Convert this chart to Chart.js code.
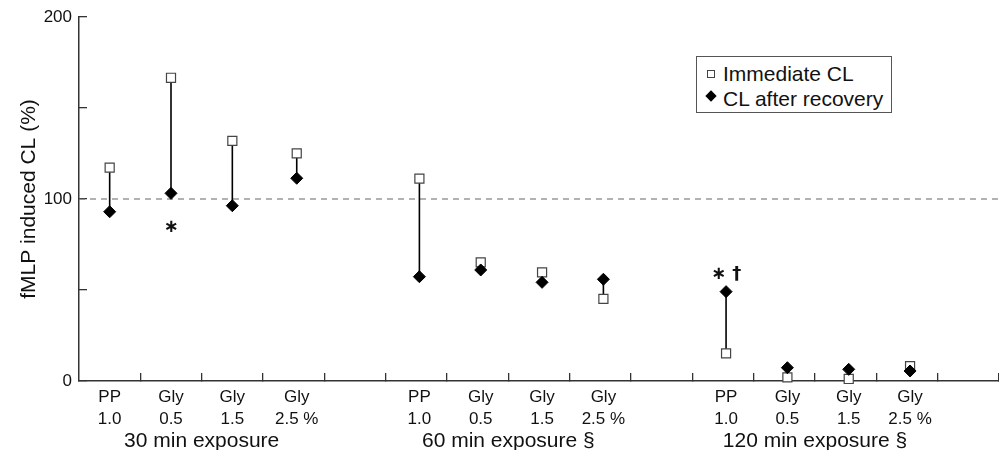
<!DOCTYPE html>
<html>
<head>
<meta charset="utf-8">
<script src="https://cdn.jsdelivr.net/npm/chart.js@4.4.0/dist/chart.umd.min.js"></script>
<style>
  body { margin: 0; background: #fff; }
  #wrap { position: relative; width: 999px; height: 450px; }
  #legend {
    position: absolute; left: 696px; top: 56px; width: 194px; height: 55px;
    border: 1px solid #555; background: #fff;
    font: 21px "Liberation Sans", Arial, sans-serif; color: #111;
  }
  .row { position: absolute; left: 26px; height: 24px; line-height: 24px; white-space: nowrap; }
  .sq { position: absolute; left: 10px; top: 13px; width: 6px; height: 6px; border: 1px solid #444; background: #fff; }
  .dia { position: absolute; left: 10px; top: 35px; width: 8px; height: 8px; background: #000; transform: rotate(45deg); }
</style>
</head>
<body>
<div id="wrap">
  <canvas id="myChart" width="999" height="450"></canvas>
  <div id="legend">
    <span class="sq"></span><div class="row" style="top:5px">Immediate CL</div>
    <span class="dia"></span><div class="row" style="top:30px">CL after recovery</div>
  </div>
</div>
<script>
const groupNames = ["30 min exposure", "60 min exposure §", "120 min exposure §"];
const groupCenters = [2, 7, 12];
const treatmentNames = ["PP", "Gly", "Gly", "Gly"];
const treatmentDoses = ["1.0", "0.5", "1.5", "2.5 %"];
const xPositions = [0.5, 1.5, 2.5, 3.55, 5.55, 6.55, 7.55, 8.55, 10.55, 11.55, 12.55, 13.55];
const immediateCL = [117.2, 166.6, 131.9, 125.1, 111.2, 65.2, 59.7, 45.1, 15.2, 2.0, 1.1, 8.2];
const recoveryCL = [93.0, 103.1, 96.3, 111.4, 57.3, 61.0, 54.2, 55.9, 49.1, 7.3, 6.4, 5.5];
const yTicks = [0, 50, 100, 150, 200];
const yLabels = ["0", "", "100", "", "200"];
const controlLevel = 100;
const xMin = 0;
const xMax = 15;
const notes = [
  { x: 1.5, y: 84.6, text: "∗" },
  { x: 10.55, y: 58.8, text: "∗ †" },
];

Chart.defaults.font.family = '"Liberation Sans", Arial, sans-serif';
Chart.defaults.color = "#111";

function toPoints(values) {
  return values.map((v, i) => ({ x: xPositions[i], y: v }));
}

function connectorPoints() {
  const pts = [];
  xPositions.forEach((x, i) => {
    pts.push({ x, y: immediateCL[i] }, { x, y: recoveryCL[i] }, { x, y: null });
  });
  return pts;
}

// keep the tick-label overhang from shrinking the plot area
function noEdgePadding(axis) {
  axis.paddingTop = 0;
  axis.paddingBottom = 0;
  axis.paddingLeft = 0;
  axis.paddingRight = 0;
}

const notesPlugin = {
  id: "notes",
  afterDatasetsDraw(chart) {
    const { ctx, scales } = chart;
    ctx.save();
    ctx.fillStyle = "#111";
    ctx.textAlign = "center";
    ctx.textBaseline = "middle";
    ctx.font = 'bold 18px "DejaVu Sans"';
    for (const note of notes) {
      ctx.fillText(note.text, scales.x.getPixelForValue(note.x), scales.y.getPixelForValue(note.y));
    }
    ctx.restore();
  },
};

const axisColor = "#333";

const config = {
  type: "line",
  data: {
    datasets: [
      {
        label: "CL after recovery",
        data: toPoints(recoveryCL),
        showLine: false,
        pointStyle: "rectRot",
        pointRadius: 6,
        pointBackgroundColor: "#000",
        pointBorderColor: "#000",
        pointBorderWidth: 1,
        order: 0,
        clip: false,
      },
      {
        label: "Immediate CL",
        data: toPoints(immediateCL),
        showLine: false,
        pointStyle: "rect",
        pointRadius: 6.4,
        pointBackgroundColor: "#fff",
        pointBorderColor: "#444",
        pointBorderWidth: 1.2,
        order: 1,
        clip: false,
      },
      {
        label: "connectors",
        data: connectorPoints(),
        borderColor: "#000",
        borderWidth: 1.6,
        pointRadius: 0,
        spanGaps: false,
        order: 2,
      },
      {
        label: "control",
        data: [{ x: xMin, y: controlLevel }, { x: xMax, y: controlLevel }],
        borderColor: "#666",
        borderWidth: 1.2,
        borderDash: [6, 5],
        pointRadius: 0,
        order: 3,
      },
    ],
  },
  options: {
    responsive: false,
    animation: false,
    layout: { autoPadding: false, padding: { top: 17, left: 0, right: 0, bottom: 0 } },
    plugins: { legend: { display: false }, tooltip: { enabled: false } },
    scales: {
      y: {
        type: "linear",
        min: 0,
        max: 200,
        afterBuildTicks: (axis) => { axis.ticks = yTicks.map((v) => ({ value: v })); },
        afterFit: (axis) => { axis.width = 79; noEdgePadding(axis); },
        ticks: {
          callback: (v, i) => yLabels[i],
          font: { size: 17 },
          padding: 15,
          color: "#111",
        },
        grid: { drawOnChartArea: false, tickLength: -8, color: axisColor, lineWidth: 1.3 },
        border: { color: axisColor, width: 1.5 },
        title: {
          display: true,
          text: "fMLP induced CL (%)",
          font: { size: 21 },
          padding: { top: 17, bottom: 0 },
          color: "#111",
        },
      },
      x: {
        type: "linear",
        min: xMin,
        max: xMax,
        weight: 0,
        afterBuildTicks: (axis) => {
          const t = [];
          for (let v = xMin + 1; v <= xMax; v++) t.push({ value: v });
          axis.ticks = t;
        },
        afterFit: (axis) => { axis.height = 0; noEdgePadding(axis); },
        ticks: { callback: () => "", autoSkip: false, maxRotation: 0 },
        grid: { drawOnChartArea: false, tickLength: -8, color: axisColor, lineWidth: 1.3 },
        border: { color: axisColor, width: 1.5 },
      },
      xl: {
        type: "linear",
        position: "bottom",
        min: xMin,
        max: xMax,
        weight: 1,
        afterBuildTicks: (axis) => { axis.ticks = xPositions.map((v) => ({ value: v })); },
        afterFit: (axis) => { axis.height = 48; noEdgePadding(axis); },
        ticks: {
          callback: (v, i) => [treatmentNames[i % 4], treatmentDoses[i % 4]],
          autoSkip: false,
          maxRotation: 0,
          font: { size: 17, lineHeight: 1.25 },
          padding: 6,
          color: "#111",
        },
        grid: { display: false, drawTicks: false },
        border: { display: false },
      },
      xg: {
        type: "linear",
        position: "bottom",
        min: xMin,
        max: xMax,
        weight: 2,
        afterBuildTicks: (axis) => { axis.ticks = groupCenters.map((v) => ({ value: v })); },
        afterFit: (axis) => { axis.height = 21; noEdgePadding(axis); },
        ticks: {
          callback: (v, i) => groupNames[i],
          autoSkip: false,
          maxRotation: 0,
          font: { size: 21 },
          padding: 0,
          color: "#111",
        },
        grid: { display: false, drawTicks: false },
        border: { display: false },
      },
    },
  },
  plugins: [notesPlugin],
};

window.chart = new Chart(document.getElementById("myChart"), config);
</script>
</body>
</html>
